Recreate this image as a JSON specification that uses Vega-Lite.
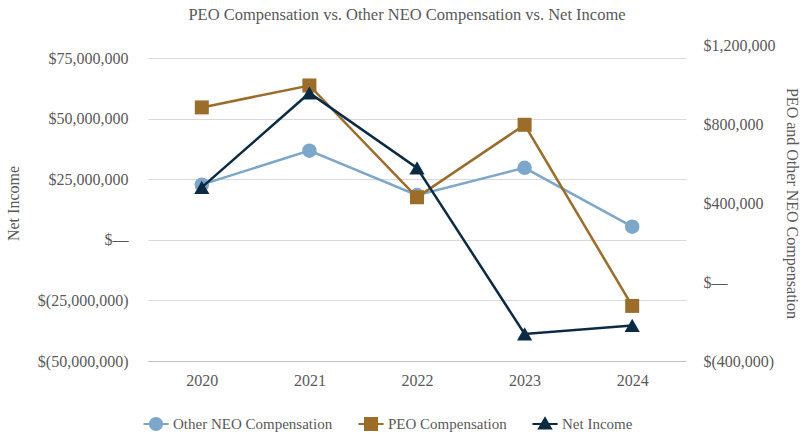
{
  "$schema": "https://vega.github.io/schema/vega-lite/v6.json",
  "width": 538,
  "height": 316,
  "autosize": "none",
  "padding": {"left": 148, "top": 45, "right": 118, "bottom": 78},
  "background": "white",
  "title": {
    "text": "PEO Compensation vs. Other NEO Compensation vs. Net Income",
    "font": "Liberation Serif",
    "fontSize": 16.5,
    "fontWeight": "normal",
    "color": "#595959",
    "offset": 14,
    "dx": -10
  },
  "data": {
    "values": [
      {"year": "2020", "series": "Other NEO Compensation", "value": 493000},
      {"year": "2021", "series": "Other NEO Compensation", "value": 665000},
      {"year": "2022", "series": "Other NEO Compensation", "value": 440000},
      {"year": "2023", "series": "Other NEO Compensation", "value": 578000},
      {"year": "2024", "series": "Other NEO Compensation", "value": 280000},
      {"year": "2020", "series": "PEO Compensation", "value": 884000},
      {"year": "2021", "series": "PEO Compensation", "value": 995000},
      {"year": "2022", "series": "PEO Compensation", "value": 429000},
      {"year": "2023", "series": "PEO Compensation", "value": 796000},
      {"year": "2024", "series": "PEO Compensation", "value": -121000},
      {"year": "2020", "series": "Net Income", "value": 21700000},
      {"year": "2021", "series": "Net Income", "value": 60700000},
      {"year": "2022", "series": "Net Income", "value": 29750000},
      {"year": "2023", "series": "Net Income", "value": -38800000},
      {"year": "2024", "series": "Net Income", "value": -35300000}
    ]
  },
  "encoding": {
    "x": {
      "field": "year",
      "type": "ordinal",
      "scale": {"type": "point", "padding": 0.5},
      "axis": {
        "title": null,
        "labelAngle": 0,
        "labelFont": "Liberation Serif",
        "labelFontSize": 16,
        "labelColor": "#595959",
        "labelPadding": 11,
        "ticks": false,
        "grid": false,
        "domain": true,
        "domainColor": "#bfbfbf",
        "domainWidth": 1
      }
    }
  },
  "layer": [
    {
      "encoding": {
        "y": {
          "field": "value",
          "type": "quantitative",
          "scale": {"domain": [-400000, 1200000], "nice": false, "zero": false},
          "axis": {
            "orient": "right",
            "title": "PEO and Other NEO Compensation",
            "titleFont": "Liberation Serif",
            "titleFontSize": 16,
            "titleFontWeight": "normal",
            "titleColor": "#595959",
            "titlePadding": 8,
            "values": [-400000, 0, 400000, 800000, 1200000],
            "labelExpr": "datum.value == 0 ? '$—' : (datum.value < 0 ? '$(' + format(-datum.value, ',') + ')' : '$' + format(datum.value, ','))",
            "labelFont": "Liberation Serif",
            "labelFontSize": 16,
            "labelColor": "#595959",
            "labelPadding": 17,
            "grid": false,
            "ticks": false,
            "domain": false
          }
        },
        "color": {
          "field": "series",
          "type": "nominal",
          "scale": {"domain": ["Other NEO Compensation", "PEO Compensation", "Net Income"], "range": ["#7DA7CA", "#9C6C2B", "#0B2B45"]},
          "legend": null
        },
        "shape": {
          "field": "series",
          "type": "nominal",
          "scale": {"domain": ["Other NEO Compensation", "PEO Compensation", "Net Income"], "range": ["circle", "square", "triangle-up"]},
          "legend": null
        }
      },
      "layer": [
        {
          "transform": [{"filter": "datum.series == 'Other NEO Compensation'"}],
          "layer": [
            {"mark": {"type": "line", "strokeWidth": 2.5}},
            {"mark": {"type": "point", "filled": true, "opacity": 1, "size": 210}}
          ]
        },
        {
          "transform": [{"filter": "datum.series == 'PEO Compensation'"}],
          "layer": [
            {"mark": {"type": "line", "strokeWidth": 2.5}},
            {"mark": {"type": "point", "filled": true, "opacity": 1, "size": 196}}
          ]
        }
      ]
    },
    {
      "transform": [{"filter": "datum.series == 'Net Income'"}],
      "encoding": {
        "y": {
          "field": "value",
          "type": "quantitative",
          "scale": {"domain": [-50000000, 80500000], "nice": false, "zero": false},
          "axis": {
            "orient": "left",
            "title": "Net Income",
            "titleFont": "Liberation Serif",
            "titleFontSize": 16,
            "titleFontWeight": "normal",
            "titleColor": "#595959",
            "titlePadding": 16,
            "values": [-50000000, -25000000, 0, 25000000, 50000000, 75000000],
            "labelExpr": "datum.value == 0 ? '$—' : (datum.value < 0 ? '$(' + format(-datum.value, ',') + ')' : '$' + format(datum.value, ','))",
            "labelFont": "Liberation Serif",
            "labelFontSize": 16,
            "labelColor": "#595959",
            "labelPadding": 20,
            "grid": true,
            "gridColor": "#d9d9d9",
            "gridWidth": 1,
            "ticks": false,
            "domain": false
          }
        },
        "color": {
          "field": "series",
          "type": "nominal",
          "scale": {"domain": ["Other NEO Compensation", "PEO Compensation", "Net Income"], "range": ["#7DA7CA", "#9C6C2B", "#0B2B45"]},
          "legend": null
        },
        "shape": {
          "field": "series",
          "type": "nominal",
          "scale": {"domain": ["Other NEO Compensation", "PEO Compensation", "Net Income"], "range": ["circle", "square", "triangle-up"]},
          "legend": null
        }
      },
      "layer": [
        {"mark": {"type": "line", "strokeWidth": 2.5}},
        {"mark": {"type": "point", "filled": true, "opacity": 1, "size": 230}}
      ]
    },
    {
      "transform": [{"filter": "false"}],
      "mark": {"type": "point", "filled": true, "opacity": 1, "size": 196},
      "encoding": {
        "color": {
          "field": "series",
          "type": "nominal",
          "scale": {"domain": ["Other NEO Compensation", "PEO Compensation", "Net Income"], "range": ["#7DA7CA", "#9C6C2B", "#0B2B45"]},
          "legend": {"title": null}
        },
        "shape": {
          "field": "series",
          "type": "nominal",
          "scale": {
            "domain": ["Other NEO Compensation", "PEO Compensation", "Net Income"],
            "range": [
              "M-1.8,-0.15H1.8V0.15H-1.8Z M0,-1A1,1 0 1,1 0,1A1,1 0 1,1 0,-1Z",
              "M-1.8,-0.15H1.8V0.15H-1.8Z M-1,-1H1V1H-1Z",
              "M-1.8,-0.15H1.8V0.15H-1.8Z M0,-1.1L1.1,0.8H-1.1Z"
            ]
          },
          "legend": {"title": null}
        }
      }
    }
  ],
  "resolve": {"scale": {"y": "independent", "color": "independent", "shape": "independent"}},
  "config": {
    "view": {"stroke": null},
    "legend": {
      "orient": "none",
      "direction": "horizontal",
      "legendX": 0,
      "legendY": 371,
      "padding": 0,
      "symbolSize": 196,
      "labelFont": "Liberation Serif",
      "labelFontSize": 15,
      "labelColor": "#595959",
      "labelOffset": 9,
      "columnPadding": 25,
      "labelLimit": 0
    }
  }
}
